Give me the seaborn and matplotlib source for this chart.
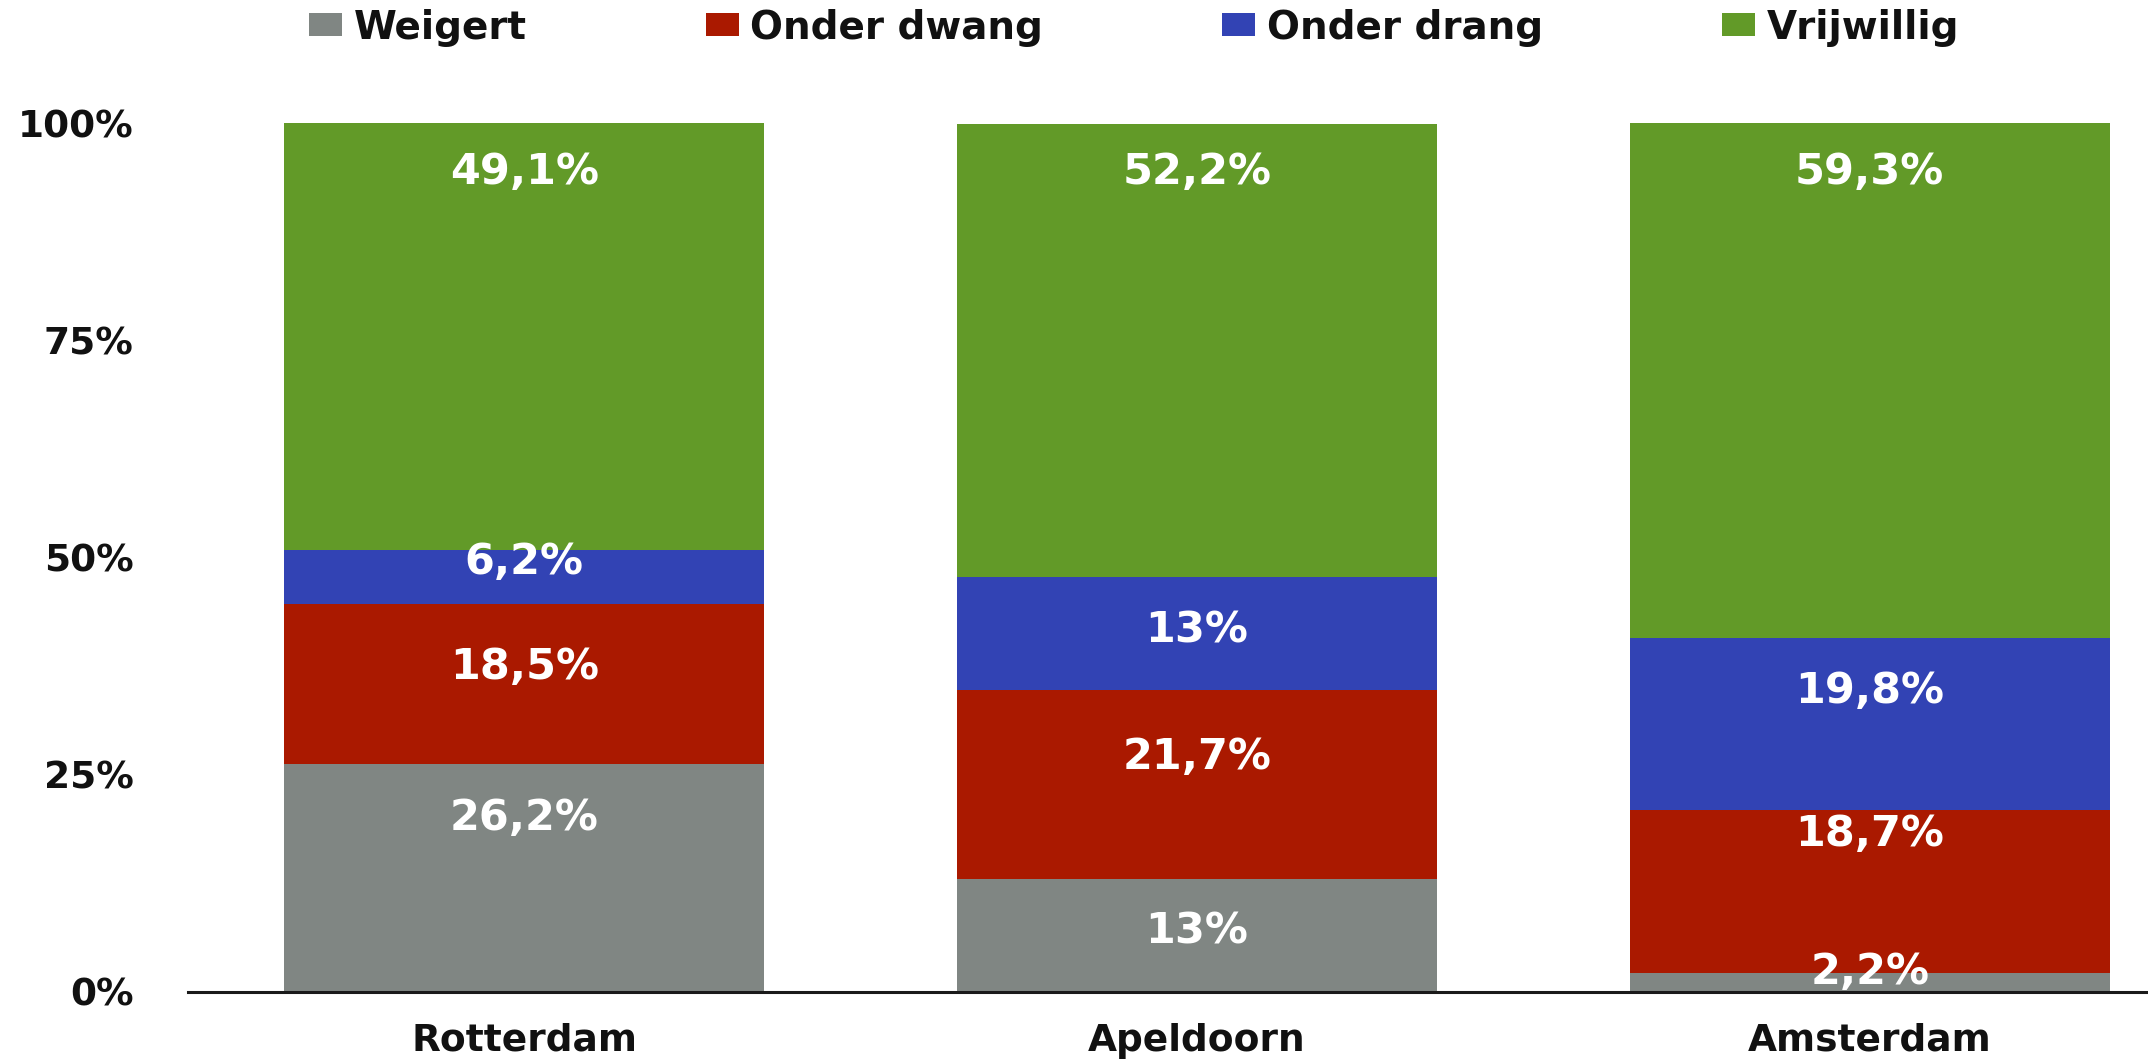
import numpy as np
import pandas as pd
import matplotlib
matplotlib.use("Agg")
import matplotlib.pyplot as plt
from matplotlib.patches import Patch
import seaborn as sns

# ---- data -------------------------------------------------------------
cities = ["Rotterdam", "Apeldoorn", "Amsterdam"]
series = ["Weigert", "Onder dwang", "Onder drang", "Vrijwillig"]

weigert = [26.2, 13.0, 2.2]
onder_dwang = [18.5, 21.7, 18.7]
onder_drang = [6.2, 13.0, 19.8]
vrijwillig = [49.1, 52.2, 59.3]

value_labels = [
    ["26,2%", "13%", "2,2%"],
    ["18,5%", "21,7%", "18,7%"],
    ["6,2%", "13%", "19,8%"],
    ["49,1%", "52,2%", "59,3%"],
]

# vertical placement of the value labels (in % units)
label_y = [
    [20.0, 7.0, 2.3],
    [37.4, 27.1, 18.2],
    [49.5, 41.6, 34.6],
    [94.4, 94.4, 94.4],
]

colors = ["#808683", "#AA1900", "#3243B4", "#629A28"]
y_ticks = [0, 25, 50, 75, 100]
y_ticklabels = ["0%", "25%", "50%", "75%", "100%"]

# ---- figure -------------------------------------------------------------
sns.set_theme(style="white")
plt.rcParams["font.family"] = ["DejaVu Sans"]
plt.rcParams["font.weight"] = "bold"

W, H = 2148, 1059
fig = plt.figure(figsize=(W / 100, H / 100), dpi=100)
fig.patch.set_facecolor("white")
ax = fig.add_axes([188 / W, 67 / H, 2018 / W, 869 / H])

values = np.array([weigert, onder_dwang, onder_drang, vrijwillig])
cum = np.cumsum(values, axis=0)

# stacked bars: draw cumulative totals from the top segment down
for i in range(len(series) - 1, -1, -1):
    df = pd.DataFrame({"city": cities, "total": cum[i]})
    sns.barplot(data=df, x="city", y="total", order=cities, color=colors[i],
                width=0.714, saturation=1, ax=ax, linewidth=0, errorbar=None)

# value labels
for i in range(len(series)):
    for j in range(len(cities)):
        ax.text(j, label_y[i][j], value_labels[i][j], ha="center", va="center",
                color="white", fontsize=31, fontweight="bold")

ax.set_xlim(-0.5, 2.5)
ax.set_ylim(0, 100)
ax.set_yticks(y_ticks)
ax.set_yticklabels(y_ticklabels, fontsize=27, fontweight="bold", color="#111111")
ax.set_xticks(range(len(cities)))
ax.set_xticklabels(cities, fontsize=27, fontweight="bold", color="#111111")
ax.tick_params(axis="y", length=0, pad=39)
ax.tick_params(axis="x", length=0, pad=22)
ax.set_xlabel("")
ax.set_ylabel("")

for side in ["top", "right", "left"]:
    ax.spines[side].set_visible(False)
ax.spines["bottom"].set_color("#1a1a1a")
ax.spines["bottom"].set_linewidth(2.2)
ax.spines["bottom"].set_zorder(5)

handles = [Patch(facecolor=c, edgecolor="none", label=s) for s, c in zip(series, colors)]
fig.legend(handles=handles, loc="center", bbox_to_anchor=(0.528, 0.974), ncol=4,
           frameon=False, handlelength=0.85, handleheight=0.55,
           handletextpad=0.3, columnspacing=4.6, labelcolor="#111111",
           prop={"weight": "bold", "size": 28})

fig.savefig("out.png", dpi=100, facecolor="white")
